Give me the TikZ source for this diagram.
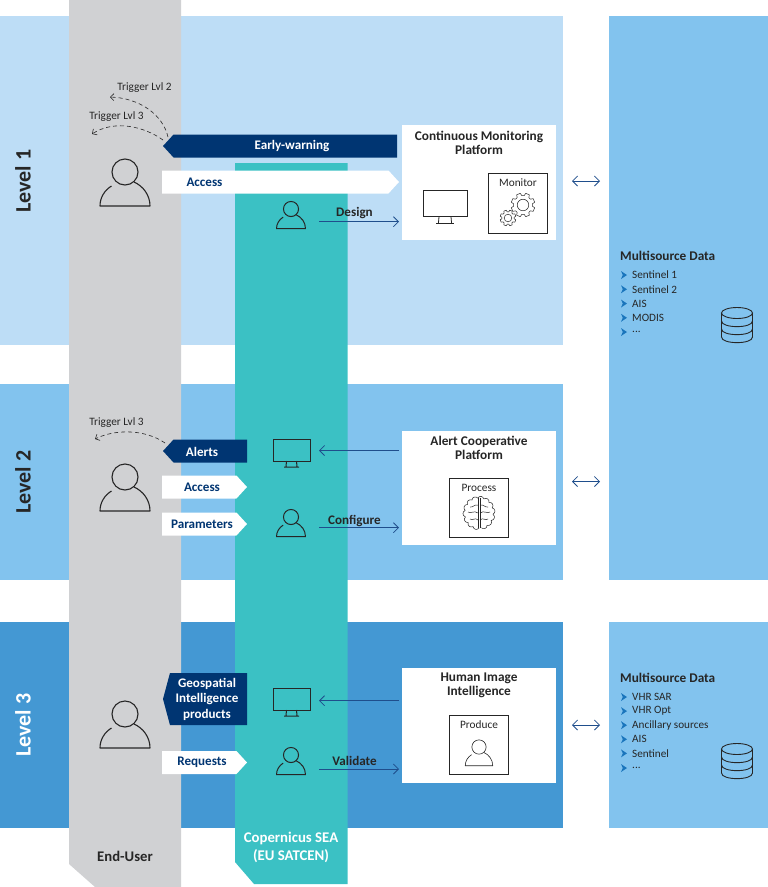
\documentclass[tikz,border=0pt]{standalone}
\usepackage{fontspec}
\setmainfont{Carlito}
\usetikzlibrary{arrows.meta, shapes.symbols}
\definecolor{bandone}{HTML}{BDDDF6}
\definecolor{bandtwo}{HTML}{82C3EE}
\definecolor{bandthree}{HTML}{4498D3}
\definecolor{usergray}{HTML}{D0D1D3}
\definecolor{seateal}{HTML}{3BC1C4}
\definecolor{navy}{HTML}{003572}
\definecolor{linkblue}{HTML}{1F4E8C}
\definecolor{bulletblue}{HTML}{1A75BC}
\definecolor{inkdark}{HTML}{262626}
\tikzset{
  band/.style={rectangle, anchor=north west, inner sep=0pt, outer sep=0pt},
  levellabel/.style={rotate=90, font=\fontsize{22}{22}\selectfont\bfseries},
  tagleft/.style={signal, signal to=west, signal pointer angle=95, fill=navy, anchor=west, inner sep=0pt, outer sep=0pt, minimum height=23pt},
  tagright/.style={signal, signal to=east, signal pointer angle=95, fill=white, anchor=west, inner sep=0pt, outer sep=0pt, minimum height=23pt},
  tagnavy/.style={font=\fontsize{13.1}{14}\selectfont\bfseries, text=navy},
  tagwhite/.style={font=\fontsize{13.1}{15.5}\selectfont\bfseries, text=white, align=center},
  platform/.style={rectangle, fill=white, anchor=north west, inner sep=0pt, outer sep=0pt},
  platformtitle/.style={font=\fontsize{13.3}{14}\selectfont\bfseries, text=inkdark, align=center},
  task/.style={rectangle, draw=inkdark, line width=0.6pt, anchor=north west, inner sep=0pt, minimum width=59pt},
  tasktitle/.style={font=\fontsize{11.3}{13}\selectfont, text=inkdark},
  trigger/.style={font=\fontsize{11.3}{12}\selectfont, text=inkdark},
  triggerline/.style={dash pattern=on 4pt off 3pt, line width=0.6pt, draw=inkdark, -{Straight Barb[length=3.5pt,width=7pt]}},
  thinarrow/.style={draw=linkblue, line width=0.8pt, -{Straight Barb[length=5pt,width=10pt]}},
  dblarrow/.style={draw=linkblue, line width=0.8pt, {Straight Barb[length=5pt,width=10pt]}-{Straight Barb[length=5pt,width=10pt]}},
  actionlabel/.style={font=\fontsize{13.1}{14}\selectfont\bfseries, text=inkdark},
  datahead/.style={font=\fontsize{13.3}{14}\selectfont\bfseries, text=inkdark, anchor=west, inner sep=0pt},
  dataitem/.style={font=\fontsize{11.2}{12}\selectfont, text=inkdark, anchor=west, inner sep=0pt},
  pics/personicon/.style={code={
    \draw (0,0) circle (13);
    \draw [line join=round] (-13.5,14) .. controls (-20,18) and (-25,25) .. (-25,34) -- (25,34) .. controls (25,23) and (18,14) .. (9,10);
  }},
  pics/monitoricon/.style={code={
    \draw (-18.5,-12.5) rectangle (18.5,9.5);
    \draw (-5,9.5) -- (-5.5,15) (5,9.5) -- (5.5,15) (-7.5,15.5) -- (7.5,15.5);
  }},
  pics/gearicon/.style={code={
    \draw [fill=white, line join=round] (0:#1*0.78)
      \foreach \a in {0,45,...,315} {
        -- (\a+7:#1*0.78) -- (\a+13:#1) -- (\a+32:#1) -- (\a+38:#1*0.78) -- (\a+45:#1*0.78)
      } -- cycle;
    \draw (0,0) circle (#1*0.48);
  }},
  pics/brainicon/.style={code={
    \draw [line join=round] (90:14 and 15)
      \foreach \a in {90,115,...,430} {
        .. controls (\a+6:17 and 17.5) and (\a+19:17 and 17.5) .. (\a+25:14 and 15)
      };
    \draw (-1.2,-15) -- (-1.2,15) (1.2,-15) -- (1.2,15);
    \draw (-1,-8) .. controls (-5,-9) and (-6,-5) .. (-9,-6) (-1,0) .. controls (-5,-3) and (-8,1) .. (-11,-1) (-1,7) .. controls (-4,4) and (-6,8) .. (-9,6);
    \draw (1,-8) .. controls (5,-9) and (6,-5) .. (9,-6) (1,0) .. controls (5,-3) and (8,1) .. (11,-1) (1,7) .. controls (4,4) and (6,8) .. (9,6);
  }},
  pics/dbicon/.style={code={
    \draw (0,-12) ellipse (15.5 and 5.5);
    \draw (-15.5,-12) -- (-15.5,12) .. controls (-15.5,19.5) and (15.5,19.5) .. (15.5,12) -- (15.5,-12);
    \draw (-15.5,-4) .. controls (-15.5,3.5) and (15.5,3.5) .. (15.5,-4);
    \draw (-15.5,4) .. controls (-15.5,11.5) and (15.5,11.5) .. (15.5,4);
  }},
  pics/chevron/.style={code={
    \fill [bulletblue] (-3,-4) -- (3,0) -- (-3,4) -- (-1.2,0) -- cycle;
  }}
}
\begin{document}
\begin{tikzpicture}[x=1pt, y=-1pt, every node/.append style={text=inkdark}]

  \useasboundingbox (0,0) rectangle (768,887);

  \node (band1) [band, fill=bandone, minimum width=563pt, minimum height=329pt] at (0,16) {};
  \node (band2) [band, fill=bandtwo, minimum width=563pt, minimum height=196pt] at (0,384) {};
  \node (band3) [band, fill=bandthree, minimum width=563pt, minimum height=206pt] at (0,622) {};
  \node (data1) [band, fill=bandtwo, minimum width=159pt, minimum height=564pt] at (609,16) {};
  \node (data2) [band, fill=bandtwo, minimum width=159pt, minimum height=206pt] at (609,622) {};

  \fill [usergray] (69,0) -- (181,0) -- (181,887) -- (95,887) -- (69,864) -- cycle;
  \fill [seateal] (235,163) -- (347.5,163) -- (347.5,884) -- (254,884) -- (235,862) -- cycle;

  \node [levellabel] at (23,181) {Level 1};
  \node [levellabel] at (23,482) {Level 2};
  \node [levellabel, text=white] at (23,725) {Level 3};

  \node (enduser) [font=\fontsize{14.7}{15}\selectfont\bfseries] at (125,856.5) {End-User};
  \node (satcen) [font=\fontsize{14.8}{18}\selectfont\bfseries, text=white, align=center] at (291,847.5) {Copernicus SEA\\(EU SATCEN)};

  \pic [line width=1.1pt, draw=inkdark] at (125,172) {personicon};
  \pic [line width=1.1pt, draw=inkdark] at (125,477) {personicon};
  \pic [line width=1.1pt, draw=inkdark] at (125,714) {personicon};
  \pic [scale=0.58, line width=1pt, draw=inkdark] at (291,209) {personicon};
  \pic [scale=0.58, line width=1pt, draw=inkdark] at (291,517) {personicon};
  \pic [scale=0.58, line width=1pt, draw=inkdark] at (291,755) {personicon};
  \pic [line width=1pt, draw=inkdark] at (291.5,451.5) {monitoricon};
  \pic [line width=1pt, draw=inkdark] at (291.5,700.5) {monitoricon};

  % Level 1
  \node (early) [tagleft, minimum width=234pt] at (163,146) {};
  \node [tagwhite, text=white] at (292,146) {Early-warning};
  \node (access1) [tagright, minimum width=237pt] at (162,182) {};
  \node [tagnavy] at (204.5,182.5) {Access};
  \node (cmp) [platform, minimum width=154pt, minimum height=115pt] at (402,125) {};
  \node [platformtitle] at (479,143) {Continuous Monitoring\\Platform};
  \pic [scale=1.19, line width=0.8pt, draw=inkdark] at (445,205) {monitoricon};
  \node (monitor) [task, minimum height=60pt] at (488,173) {};
  \node [tasktitle] at (518,182.5) {Monitor};
  \pic [line width=0.5pt, draw=inkdark] at (523,205) {gearicon=12};
  \pic [line width=0.5pt, draw=inkdark] at (508,218) {gearicon=8};
  \coordinate (designstart) at (319,221.7);
  \coordinate (designend) at (399,221.7);
  \draw [thinarrow] (designstart) -- (designend);
  \node [actionlabel] at (354.5,213.5) {Design};
  \coordinate (earlytiptwo) at (168,137);
  \coordinate (earlytipthree) at (163,140);
  \coordinate (triggertwo) at (110,97);
  \coordinate (triggerthree) at (92,134);
  \draw [triggerline] (earlytiptwo) .. controls (163,115) and (140,98) .. (triggertwo);
  \draw [triggerline] (earlytipthree) .. controls (145,127) and (115,119) .. (triggerthree);
  \node [trigger] at (144.5,87.5) {Trigger Lvl 2};
  \node [trigger] at (116.5,116.5) {Trigger Lvl 3};

  % Level 2
  \node (alerts) [tagleft, minimum width=84pt] at (163,451) {};
  \node [tagwhite] at (202,451.5) {Alerts};
  \node (access2) [tagright, minimum width=85pt] at (162,487) {};
  \node [tagnavy] at (202,487.5) {Access};
  \node (params) [tagright, minimum width=85pt] at (162,524) {};
  \node [tagnavy] at (202,524.5) {Parameters};
  \node (acp) [platform, minimum width=154pt, minimum height=114pt] at (402,431) {};
  \node [platformtitle] at (479,448) {Alert Cooperative\\Platform};
  \node (process) [task, minimum height=59pt] at (449,478) {};
  \node [tasktitle] at (479,488) {Process};
  \pic [line width=0.5pt, draw=inkdark] at (479,513) {brainicon};
  \coordinate (alertsfrom) at (399,450.5);
  \coordinate (alertsto) at (319,450.5);
  \draw [thinarrow] (alertsfrom) -- (alertsto);
  \coordinate (configstart) at (319,527.7);
  \coordinate (configend) at (399,527.7);
  \draw [thinarrow] (configstart) -- (configend);
  \node [actionlabel] at (354.5,520.5) {Configure};
  \coordinate (alertstip) at (165,443);
  \coordinate (triggerfour) at (95,439);
  \draw [triggerline] (alertstip) .. controls (145,429) and (115,429) .. (triggerfour);
  \node [trigger] at (116.5,422.5) {Trigger Lvl 3};

  % Level 3
  \node (geo) [tagleft, minimum width=84pt, minimum height=52pt, signal pointer angle=150] at (163,699) {};
  \node [tagwhite] at (207,699) {Geospatial\\Intelligence\\products};
  \node (requests) [tagright, minimum width=85pt] at (162,762.5) {};
  \node [tagnavy] at (202,762.5) {Requests};
  \node (hii) [platform, minimum width=154pt, minimum height=115pt] at (402,668) {};
  \node [platformtitle] at (479,685.5) {Human Image\\Intelligence};
  \node (produce) [task, minimum height=59pt] at (449,715) {};
  \node [tasktitle] at (479,724.5) {Produce};
  \pic [scale=0.55, line width=0.6pt, draw=inkdark] at (479,747) {personicon};
  \coordinate (productsfrom) at (399,700.7);
  \coordinate (productsto) at (319,700.7);
  \draw [thinarrow] (productsfrom) -- (productsto);
  \coordinate (validstart) at (319,769);
  \coordinate (validend) at (399,769);
  \draw [thinarrow] (validstart) -- (validend);
  \node [actionlabel] at (354.5,760.5) {Validate};

  % links to the data
  \coordinate (linkonea) at (572,181);
  \coordinate (linkoneb) at (600,181);
  \coordinate (linktwoa) at (572,481.5);
  \coordinate (linktwob) at (600,481.5);
  \coordinate (linkthreea) at (572,725);
  \coordinate (linkthreeb) at (600,725);
  \draw [dblarrow] (linkonea) -- (linkoneb);
  \draw [dblarrow] (linktwoa) -- (linktwob);
  \draw [dblarrow] (linkthreea) -- (linkthreeb);

  % data lists
  \node [datahead] at (620,256) {Multisource Data};
  \foreach \source [count=\i from 0] in {Sentinel 1, Sentinel 2, AIS, MODIS} {
    \pic at (624,275+14.25*\i) {chevron};
    \node [dataitem] at (632,275+14.25*\i) {\source};
  }
  \pic at (624,332) {chevron};
  \node [dataitem] at (632,332) {...};
  \pic [line width=0.9pt, draw=inkdark] at (737,325) {dbicon};
  \node [datahead] at (620,678) {Multisource Data};
  \foreach \source [count=\i from 0] in {VHR SAR, VHR Opt, Ancillary sources, AIS, Sentinel} {
    \pic at (624,697+14.1*\i) {chevron};
    \node [dataitem] at (632,697+14.1*\i) {\source};
  }
  \pic at (624,768) {chevron};
  \node [dataitem] at (632,768) {...};
  \pic [line width=0.9pt, draw=inkdark] at (737,761) {dbicon};

\end{tikzpicture}
\end{document}
